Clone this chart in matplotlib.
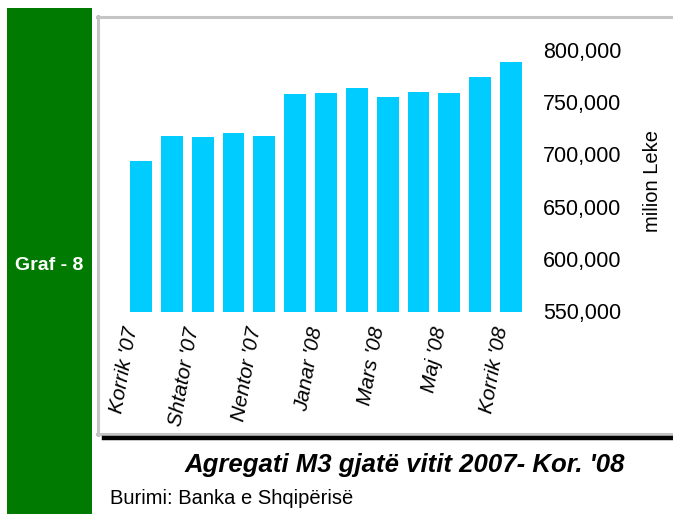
import matplotlib.pyplot as plt
from matplotlib.lines import Line2D
from matplotlib.patches import Rectangle
from matplotlib.ticker import FuncFormatter

plt.rcParams['font.family'] = ['Liberation Sans', 'DejaVu Sans']

# M3 aggregate, million Leke, July 2007 - July 2008
months = ["Korrik '07", "Gusht '07", "Shtator '07", "Tetor '07", "Nentor '07",
          "Dhjetor '07", "Janar '08", "Shkurt '08", "Mars '08", "Prill '08",
          "Maj '08", "Qershor '08", "Korrik '08"]
m3 = [694000, 718000, 717000, 720000, 718000, 758000, 759000,
      763000, 755000, 760000, 759000, 774000, 788000]
ytick_vals = [550000, 600000, 650000, 700000, 750000, 800000]

W, H = 673, 514
fig = plt.figure(figsize=(W / 100, H / 100), dpi=100)

def fx(px):
    return px / W

def fy(py):
    return 1 - py / H

# green side strip
fig.add_artist(Rectangle((fx(7), 0), fx(92) - fx(7), fy(8), transform=fig.transFigure,
                         facecolor='#007a00', edgecolor='none'))
fig.text(fx(49), fy(266), 'Graf - 8', color='white', fontsize=14, fontweight='bold',
         ha='center', va='center')

# frame lines
gray = '#c4c4c4'
fig.add_artist(Line2D([fx(97), 1], [fy(17), fy(17)], color=gray, lw=2.2))
fig.add_artist(Line2D([fx(98), fx(98)], [fy(16), fy(435)], color=gray, lw=2.2))
fig.add_artist(Line2D([fx(97), 1], [fy(433.5), fy(433.5)], color=gray, lw=2.2))
fig.add_artist(Line2D([fx(104), 1], [fy(438), fy(438)], color='black', lw=3.2))

ax = fig.add_axes([fx(110.2), fy(311.5), fx(541.8) - fx(110.2), fy(49.7) - fy(311.5)])
x = list(range(len(months)))
ax.bar(x, m3, width=0.71, color='#00ccff', bottom=0)
ax.set_xlim(-1, 13)
ax.set_ylim(550000, 800000)

ax.yaxis.tick_right()
ax.set_yticks(ytick_vals)
ax.yaxis.set_major_formatter(FuncFormatter(lambda v, p: f'{int(v):,}'))
ax.tick_params(axis='y', length=0, pad=1, labelsize=15.5)
ax.yaxis.set_label_position('right')
ax.set_ylabel('milion Leke', fontsize=14.5, labelpad=15)

ax.set_xticks(x[::2])
ax.set_xticklabels(months[::2], rotation=80, fontstyle='italic', fontsize=15,
                   ha='right', va='top')
ax.tick_params(axis='x', length=0, pad=10)

for s in ax.spines.values():
    s.set_visible(False)

fig.text(fx(405), fy(465), "Agregati M3 gjatë vitit 2007- Kor. '08", fontsize=18.5,
         fontstyle='italic', fontweight='bold', ha='center', va='center')
fig.text(fx(110), fy(499), 'Burimi: Banka e Shqipërisë', fontsize=14.5,
         ha='left', va='center')

fig.savefig('out.png', dpi=100)
